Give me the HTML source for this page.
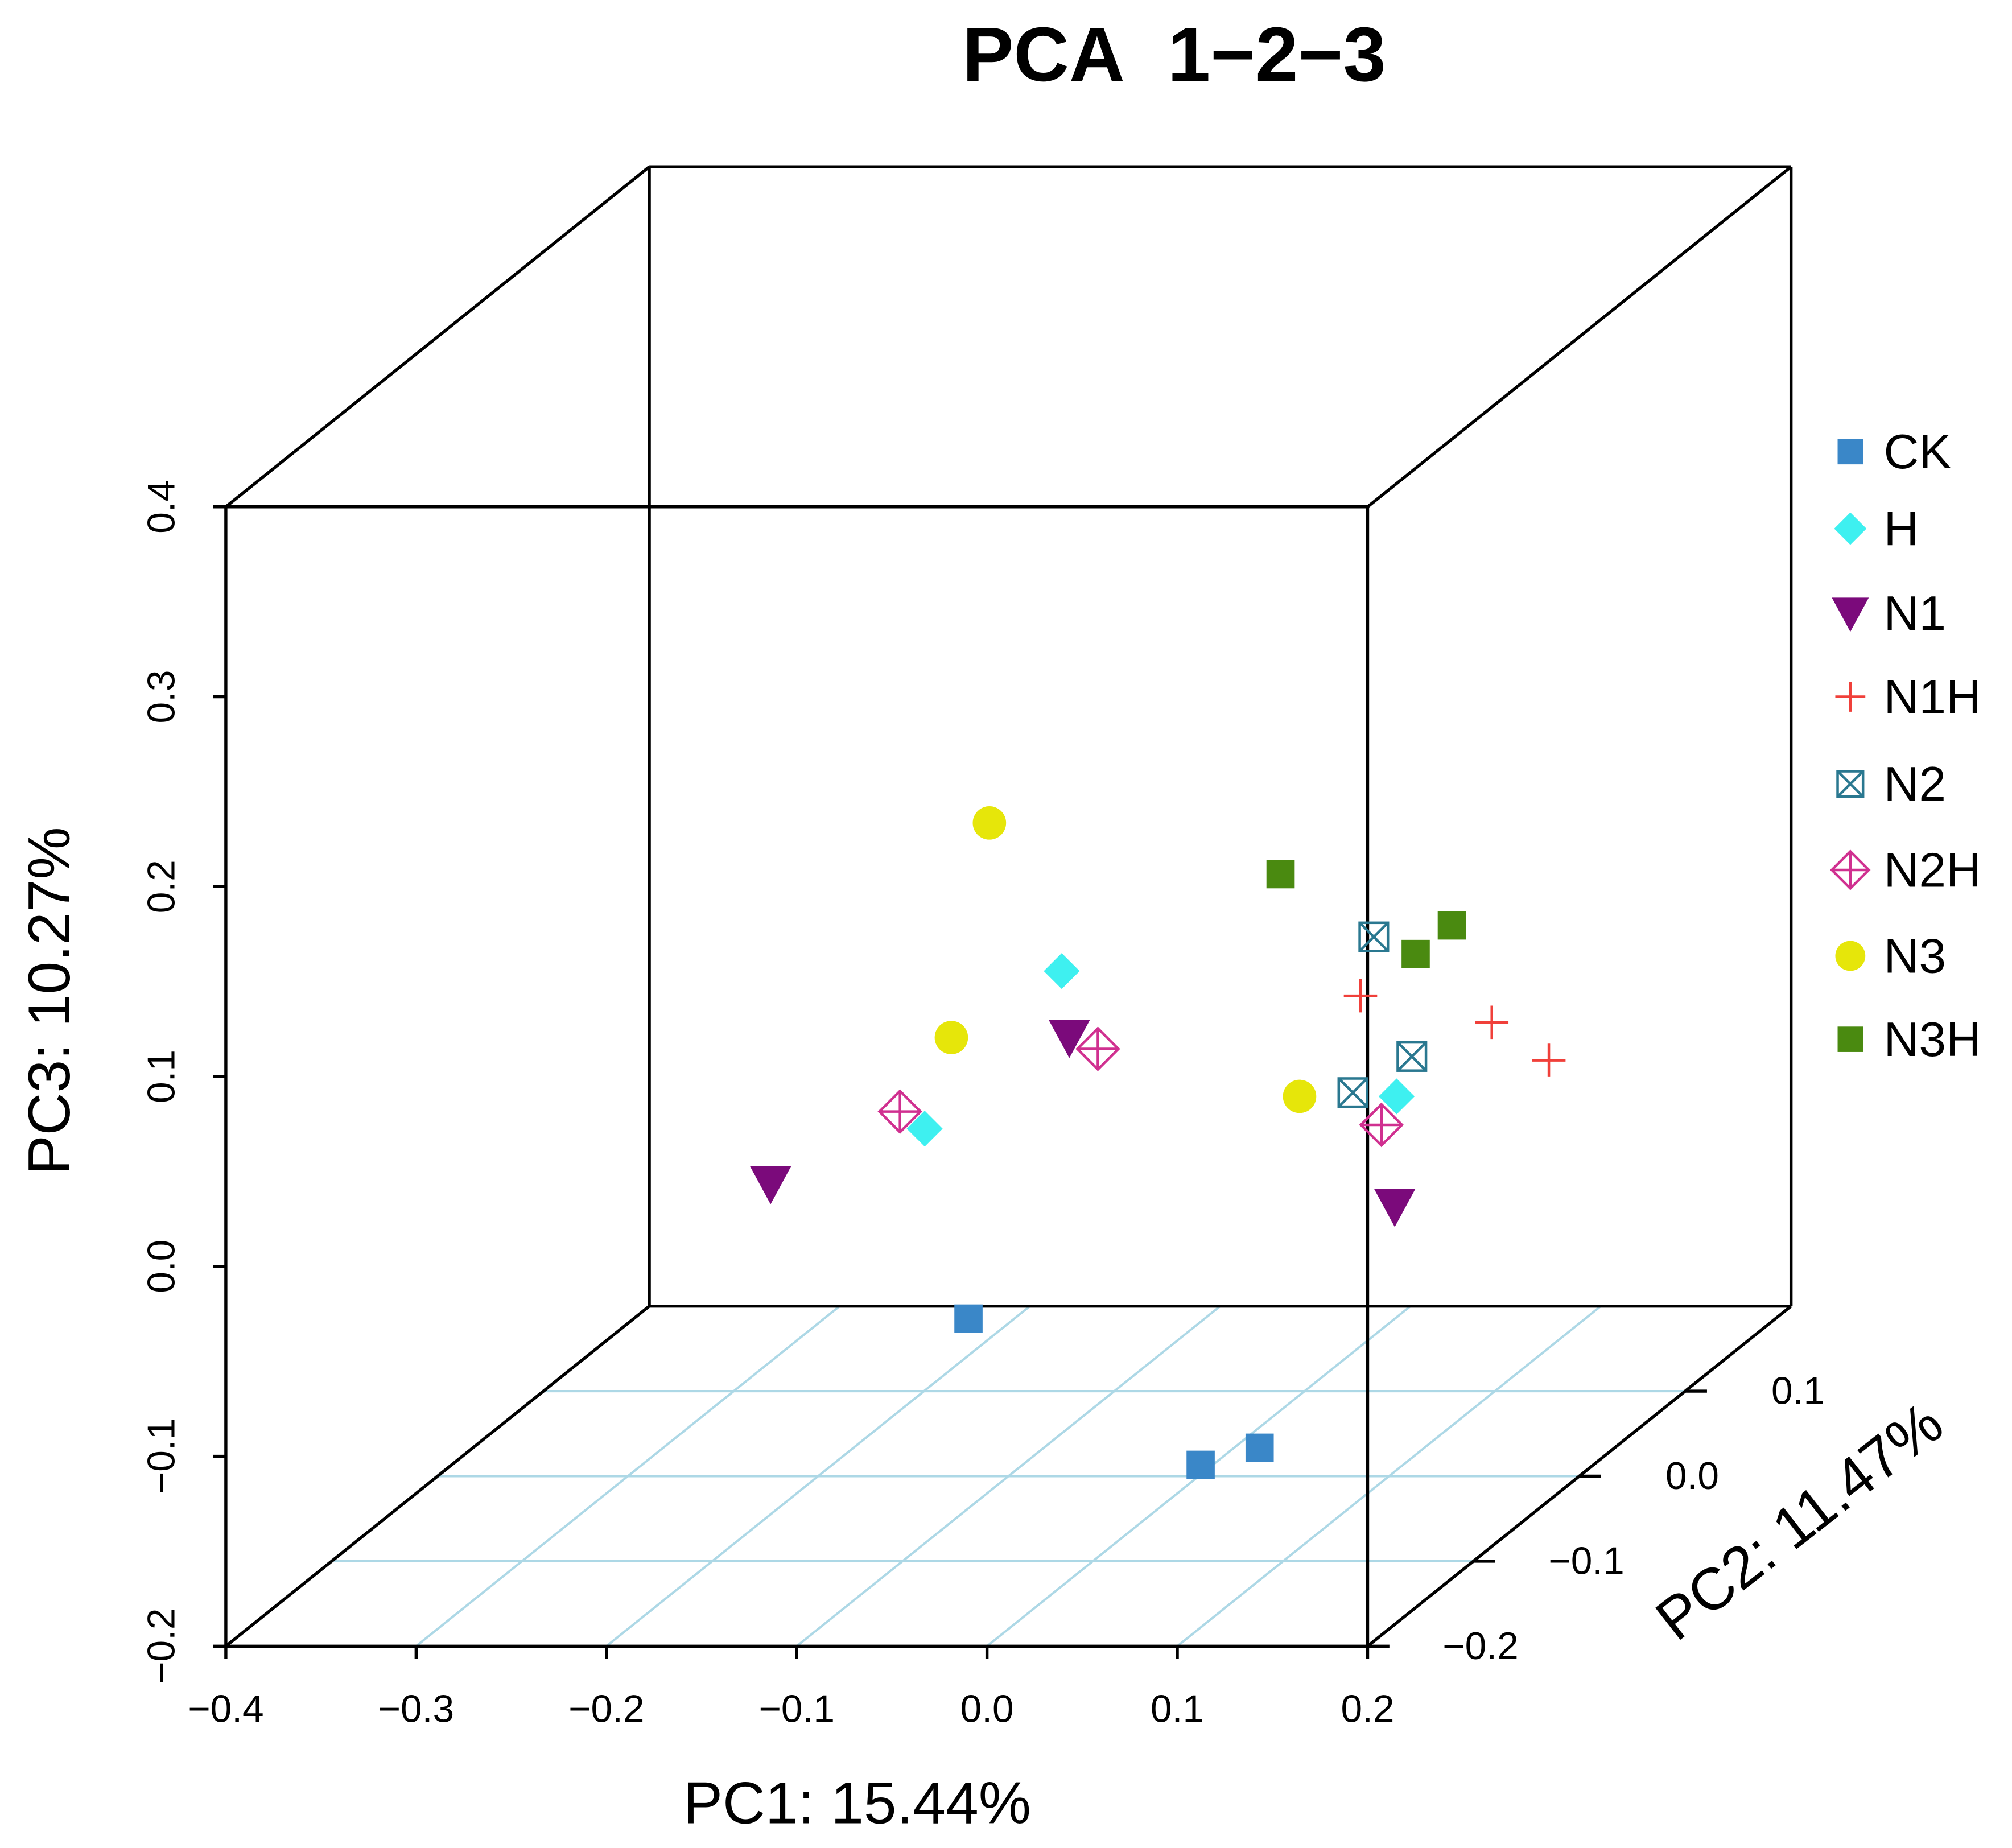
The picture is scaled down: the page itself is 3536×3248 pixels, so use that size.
<!DOCTYPE html>
<html><head><meta charset="utf-8"><style>html,body{margin:0;padding:0;background:#fff}svg{display:block}</style></head>
<body>
<svg id="chart" xmlns="http://www.w3.org/2000/svg" width="3536" height="3248" viewBox="0 0 1568 1440.3" font-family="Liberation Sans, Arial, sans-serif">
<rect width="1568" height="1440.3" fill="#fff"/>
<text x="915" y="63" font-size="60" font-weight="bold" text-anchor="middle">PCA&#160; 1−2−3</text>
<g id="box"></g><g id="pts"></g><g id="legend"></g>
</svg>
<script>
const groups=["CK","H","N1","N1H","N2","N2H","N3","N3H"];
const pc1=[[-0.121,0.001,0.032],[-0.072,-0.144,0.104],[-0.068,-0.225,0.103],[0.085,0.154,0.184],[0.092,0.112,0.081],[-0.053,-0.157,0.096],[-0.110,-0.130,0.053],[0.043,0.133,0.114]];
const pc2=[[0,0,0],[0,0,0],[0,0,0],[0,0,0],[0,0,0],[0,0,0],[0,0,0],[0,0,0]];
const pc3=[[-0.117,-0.194,-0.185],[0.066,-0.017,0.000],[0.031,-0.046,-0.058],[0.053,0.039,0.019],[0.084,0.021,0.002],[0.025,-0.008,-0.015],[0.144,0.031,0.000],[0.117,0.090,0.075]];
const xTicks=["−0.4","−0.3","−0.2","−0.1","0.0","0.1","0.2"];
const yTicks=["−0.2","−0.1","0.0","0.1"];
const zTicks=["−0.2","−0.1","0.0","0.1","0.2","0.3","0.4"];
const colors={CK:"#3a87c8",H:"#3ef0f0",N1:"#7b0a7b",N1H:"#f0403a",N2:"#2a7890",N2H:"#d03090",N3:"#e6e60a",N3H:"#4a8a10"};
const X0=176,Y0=1283,SX=1483,SZ=1480,DX=825,DY=662.5;
function px(a,b){return X0+(a+0.4)*SX+(b+0.2)*DX;}
function py(b,c){return Y0-(c+0.2)*SZ-(b+0.2)*DY;}
const NS="http://www.w3.org/2000/svg";
function mk(p,tag,at){const e=document.createElementNS(NS,tag);for(const k in at)e.setAttribute(k,at[k]);p.appendChild(e);return e;}
const box=document.getElementById('box');
for(let v=-0.1;v<0.15;v+=0.1){const l=mk(box,'line',{x1:px(-0.4,v),y1:py(v,-0.2),x2:px(0.2,v),y2:py(v,-0.2),stroke:'#add8e6','stroke-width':1.8});

}
for(let i=1;i<6;i++){const v=-0.4+i*0.1;const l=mk(box,'line',{x1:px(v,-0.2),y1:py(-0.2,-0.2),x2:px(v,0.2),y2:py(0.2,-0.2),stroke:'#add8e6','stroke-width':1.8});

}
const edges=[[[-0.4,-0.2,-0.2],[0.2,-0.2,-0.2]],[[-0.4,-0.2,0.4],[0.2,-0.2,0.4]],[[-0.4,-0.2,-0.2],[-0.4,-0.2,0.4]],[[0.2,-0.2,-0.2],[0.2,-0.2,0.4]],
[[-0.4,0.2,-0.2],[0.2,0.2,-0.2]],[[-0.4,0.2,0.4],[0.2,0.2,0.4]],[[-0.4,0.2,-0.2],[-0.4,0.2,0.4]],[[0.2,0.2,-0.2],[0.2,0.2,0.4]],
[[-0.4,-0.2,-0.2],[-0.4,0.2,-0.2]],[[0.2,-0.2,-0.2],[0.2,0.2,-0.2]],[[-0.4,-0.2,0.4],[-0.4,0.2,0.4]],[[0.2,-0.2,0.4],[0.2,0.2,0.4]]];
edges.forEach(e=>{const l=mk(box,'line',{x1:px(e[0][0],e[0][1]),y1:py(e[0][1],e[0][2]),x2:px(e[1][0],e[1][1]),y2:py(e[1][1],e[1][2]),stroke:'#000','stroke-width':2.4});

});
xTicks.forEach((t,i)=>{const v=-0.4+i*0.1,x=px(v,-0.2);mk(box,'line',{x1:x,y1:Y0,x2:x,y2:Y0+10,stroke:'#000','stroke-width':2.4});
const tx=mk(box,'text',{x:x,y:1342,'font-size':30,'text-anchor':'middle'});tx.textContent=t;

});
zTicks.forEach((t,i)=>{const v=-0.2+i*0.1,y=py(-0.2,v);mk(box,'line',{x1:X0,y1:y,x2:X0-10,y2:y,stroke:'#000','stroke-width':2.4});
const tx=mk(box,'text',{x:0,y:0,'font-size':30,'text-anchor':'middle',transform:`translate(136,${y}) rotate(-90)`});tx.textContent=t;

});
yTicks.forEach((t,i)=>{const v=-0.2+i*0.1,x=px(0.2,v),y=py(v,-0.2);mk(box,'line',{x1:x,y1:y,x2:x+17,y2:y,stroke:'#000','stroke-width':2.4});
const tx=mk(box,'text',{x:x+88,y:y+10,'font-size':30,'text-anchor':'middle'});tx.textContent=t;

});
let t=mk(box,'text',{x:668,y:1421,'font-size':46,'text-anchor':'middle'});t.textContent='PC1: 15.44%';


t=mk(box,'text',{x:0,y:0,'font-size':46,'text-anchor':'middle',transform:'translate(54,780) rotate(-90)'});t.textContent='PC3: 10.27%';


t=mk(box,'text',{x:0,y:0,'font-size':46,'text-anchor':'middle',transform:'translate(1412,1198) rotate(-38)'});t.textContent='PC2: 11.47%';


function marker(p,g,x,y,s){const c=colors[g];const G=mk(p,'g',{});
if(g==='CK'||g==='N3H'){const w=s*22;mk(G,'rect',{x:x-w/2,y:y-w/2,width:w,height:w,fill:c});}
else if(g==='H'){const r=s*14;mk(G,'polygon',{points:`${x},${y-r} ${x+r},${y} ${x},${y+r} ${x-r},${y}`,fill:c});}
else if(g==='N1'){const r=s*16;mk(G,'polygon',{points:`${x-r},${y-r*0.85} ${x+r},${y-r*0.85} ${x},${y+r}`,fill:c});}
else if(g==='N1H'){const r=s*13;mk(G,'path',{d:`M${x-r} ${y}H${x+r}M${x} ${y-r}V${y+r}`,stroke:c,'stroke-width':2,fill:'none'});}
else if(g==='N2'){const r=s*11;mk(G,'rect',{x:x-r,y:y-r,width:2*r,height:2*r,fill:'none',stroke:c,'stroke-width':2});mk(G,'path',{d:`M${x-r} ${y-r}L${x+r} ${y+r}M${x+r} ${y-r}L${x-r} ${y+r}`,stroke:c,'stroke-width':2});}
else if(g==='N2H'){const r=s*16;mk(G,'polygon',{points:`${x},${y-r} ${x+r},${y} ${x},${y+r} ${x-r},${y}`,fill:'none',stroke:c,'stroke-width':2});mk(G,'path',{d:`M${x-r} ${y}H${x+r}M${x} ${y-r}V${y+r}`,stroke:c,'stroke-width':2});}
else if(g==='N3'){mk(G,'circle',{cx:x,cy:y,r:s*13,fill:c});}
return G;}
const pts=document.getElementById('pts');
groups.forEach((g,gi)=>{for(let k=0;k<pc1[gi].length;k++){const m=marker(pts,g,px(pc1[gi][k],pc2[gi][k]),py(pc2[gi][k],pc3[gi][k]),1);

}});
const leg=document.getElementById('legend');
const ly=[352,412,478,543,611,678,745,810];
groups.forEach((g,i)=>{const G=mk(leg,'g',{});


marker(G,g,1442,ly[i],0.9);const tx=mk(G,'text',{x:1468,y:ly[i]+13,'font-size':38});tx.textContent=g;});
</script>
</body></html>
